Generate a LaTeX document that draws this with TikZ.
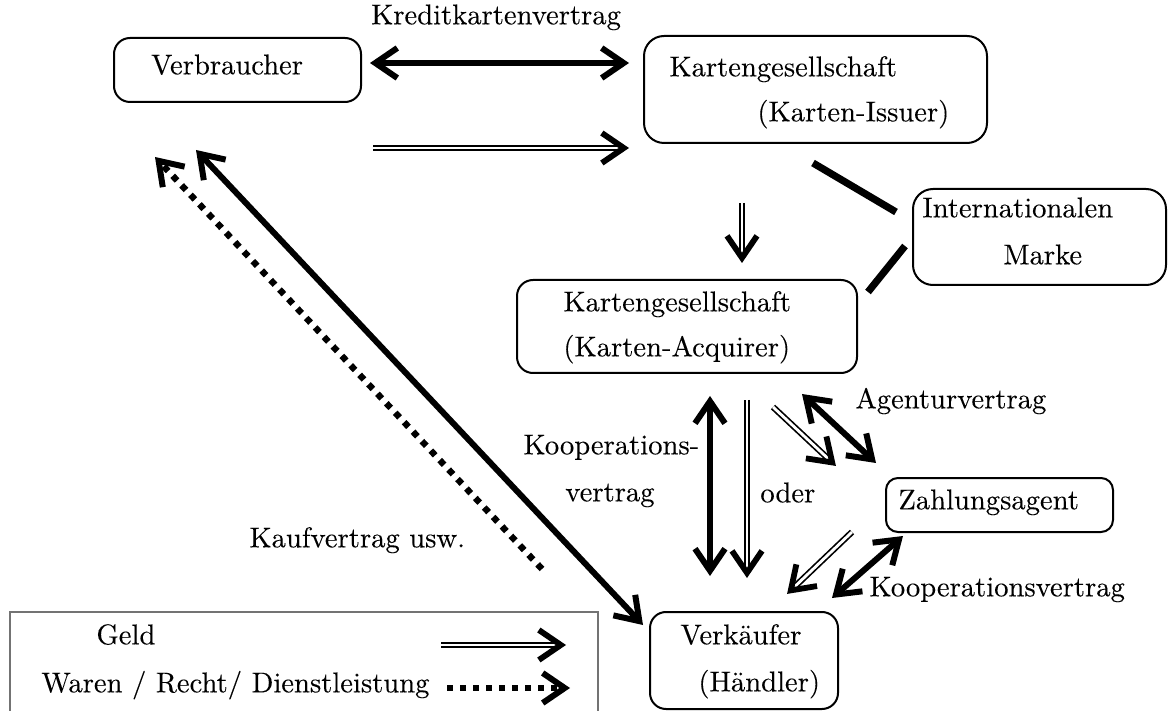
\documentclass[tikz,border=0pt]{standalone}
\usepackage{fontspec}
\setmainfont{lmroman10-regular.otf}[FakeBold=0.12]
\usetikzlibrary{arrows.meta,decorations.markings}
\begin{document}
\begin{tikzpicture}[x=0.5pt,y=-0.5pt,
  every node/.style={font=\fontsize{14.3}{17}\selectfont, inner sep=0pt},
  box/.style={draw, line width=1pt, rounded corners=8pt},
  lbl/.style={anchor=mid west},
  thick2/.style={line width=3pt, {Straight Barb[length=11pt,width=15pt]}-{Straight Barb[length=11pt,width=15pt]}},
  money/.style={line width=0.85pt, double, double distance=1.4pt, shorten >=3pt,
    postaction={decorate, decoration={markings,
      mark=at position 1 with {\arrow[line width=2.9pt]{Straight Barb[length=11pt,width=15pt]}}}}},
  goods/.style={line width=3.2pt, dash pattern=on 3.2pt off 3.3pt, -{Straight Barb[length=11pt,width=15pt,line width=3pt]}},
  brand/.style={line width=3.6pt},
]
\useasboundingbox (0,0) rectangle (1168,711);

% boxes
\node[box, minimum width=123.5pt, minimum height=32pt] (verb) at (237.5,70) {};
\node[box, rounded corners=10pt, minimum width=171.5pt, minimum height=53.5pt] (iss) at (815.5,89.5) {};
\node[box, rounded corners=10pt, minimum width=126.5pt, minimum height=48pt] (marke) at (1039.5,237) {};
\node[box, minimum width=170pt, minimum height=46.5pt] (acq) at (687,326.5) {};
\node[box, rounded corners=6pt, minimum width=113.5pt, minimum height=27pt] (zahl) at (999.5,505) {};
\node[box, minimum width=94pt, minimum height=48.5pt] (verk) at (744,660.5) {};
\node[draw=black!55, line width=1.2pt, minimum width=294pt, minimum height=54pt] (leg) at (304,666) {};

% box texts
\node[anchor=mid] (tverb) at (227,70) {Verbraucher};
\node[lbl] (tiss1) at (669,72) {Kartengesellschaft};
\node[lbl] (tiss2) at (757,117) {(Karten-Issuer)};
\node[lbl] (tmar1) at (922,213) {Internationalen};
\node[lbl] (tmar2) at (1003,260) {Marke};
\node[lbl] (tacq1) at (563,307) {Kartengesellschaft};
\node[lbl] (tacq2) at (563,352) {(Karten-Acquirer)};
\node[lbl] (tzahl) at (898,505) {Zahlungsagent};
\node[lbl] (tverk1) at (680,640) {Verk\"aufer};
\node[lbl] (tverk2) at (698,687) {(H\"andler)};

% labels
\node[anchor=mid] (lkredit) at (496,20) {Kreditkartenvertrag};
\node[lbl] (lkauf) at (249,543) {Kaufvertrag usw.};
\node[lbl] (lkoop1) at (523,450) {Kooperations-};
\node[lbl] (lkoop2) at (565,497) {vertrag};
\node[lbl] (loder) at (760,498) {oder};
\node[lbl] (lagent) at (855,404) {Agenturvertrag};
\node[lbl] (lkoop3) at (869,592) {Kooperationsvertrag};
\node[lbl] (lgeld) at (96,640) {Geld};
\node[lbl] (lwaren) at (41,688) {Waren / Recht/ Dienstleistung};

% connector end points
\coordinate (k1) at (370,63);  \coordinate (k2) at (629,63);
\coordinate (g1) at (373,148); \coordinate (g2) at (629,148);
\coordinate (m1) at (813,163); \coordinate (m2) at (896,212);
\coordinate (m3) at (868,292); \coordinate (m4) at (905,246);
\coordinate (d1) at (742,203); \coordinate (d2) at (742,263);
\coordinate (v1) at (196,150); \coordinate (v2) at (643,625);
\coordinate (w1) at (542,569); \coordinate (w2) at (155,157);
\coordinate (a1) at (710,396); \coordinate (a2) at (710,576);
\coordinate (b1) at (747,400); \coordinate (b2) at (747,578);
\coordinate (c1) at (773,407); \coordinate (c2) at (836,466);
\coordinate (e1) at (802,394); \coordinate (e2) at (876,463);
\coordinate (f1) at (852,532); \coordinate (f2) at (787,594);
\coordinate (h1) at (903,536); \coordinate (h2) at (832,598);
\coordinate (L1) at (441,645); \coordinate (L2) at (566,645);
\coordinate (L3) at (447,688); \coordinate (L4) at (570,688);

% connectors
\draw[thick2] (k1) -- (k2);
\draw[money] (g1) -- (g2);
\draw[brand] (m1) -- (m2);
\draw[brand] (m3) -- (m4);
\draw[money] (d1) -- (d2);
\draw[thick2] (v1) -- (v2);
\draw[goods] (w1) -- (w2);
\draw[thick2] (a1) -- (a2);
\draw[money] (b1) -- (b2);
\draw[money] (c1) -- (c2);
\draw[thick2] (e1) -- (e2);
\draw[money] (f1) -- (f2);
\draw[thick2] (h1) -- (h2);
\draw[money] (L1) -- (L2);
\draw[goods] (L3) -- (L4);
\end{tikzpicture}
\end{document}
